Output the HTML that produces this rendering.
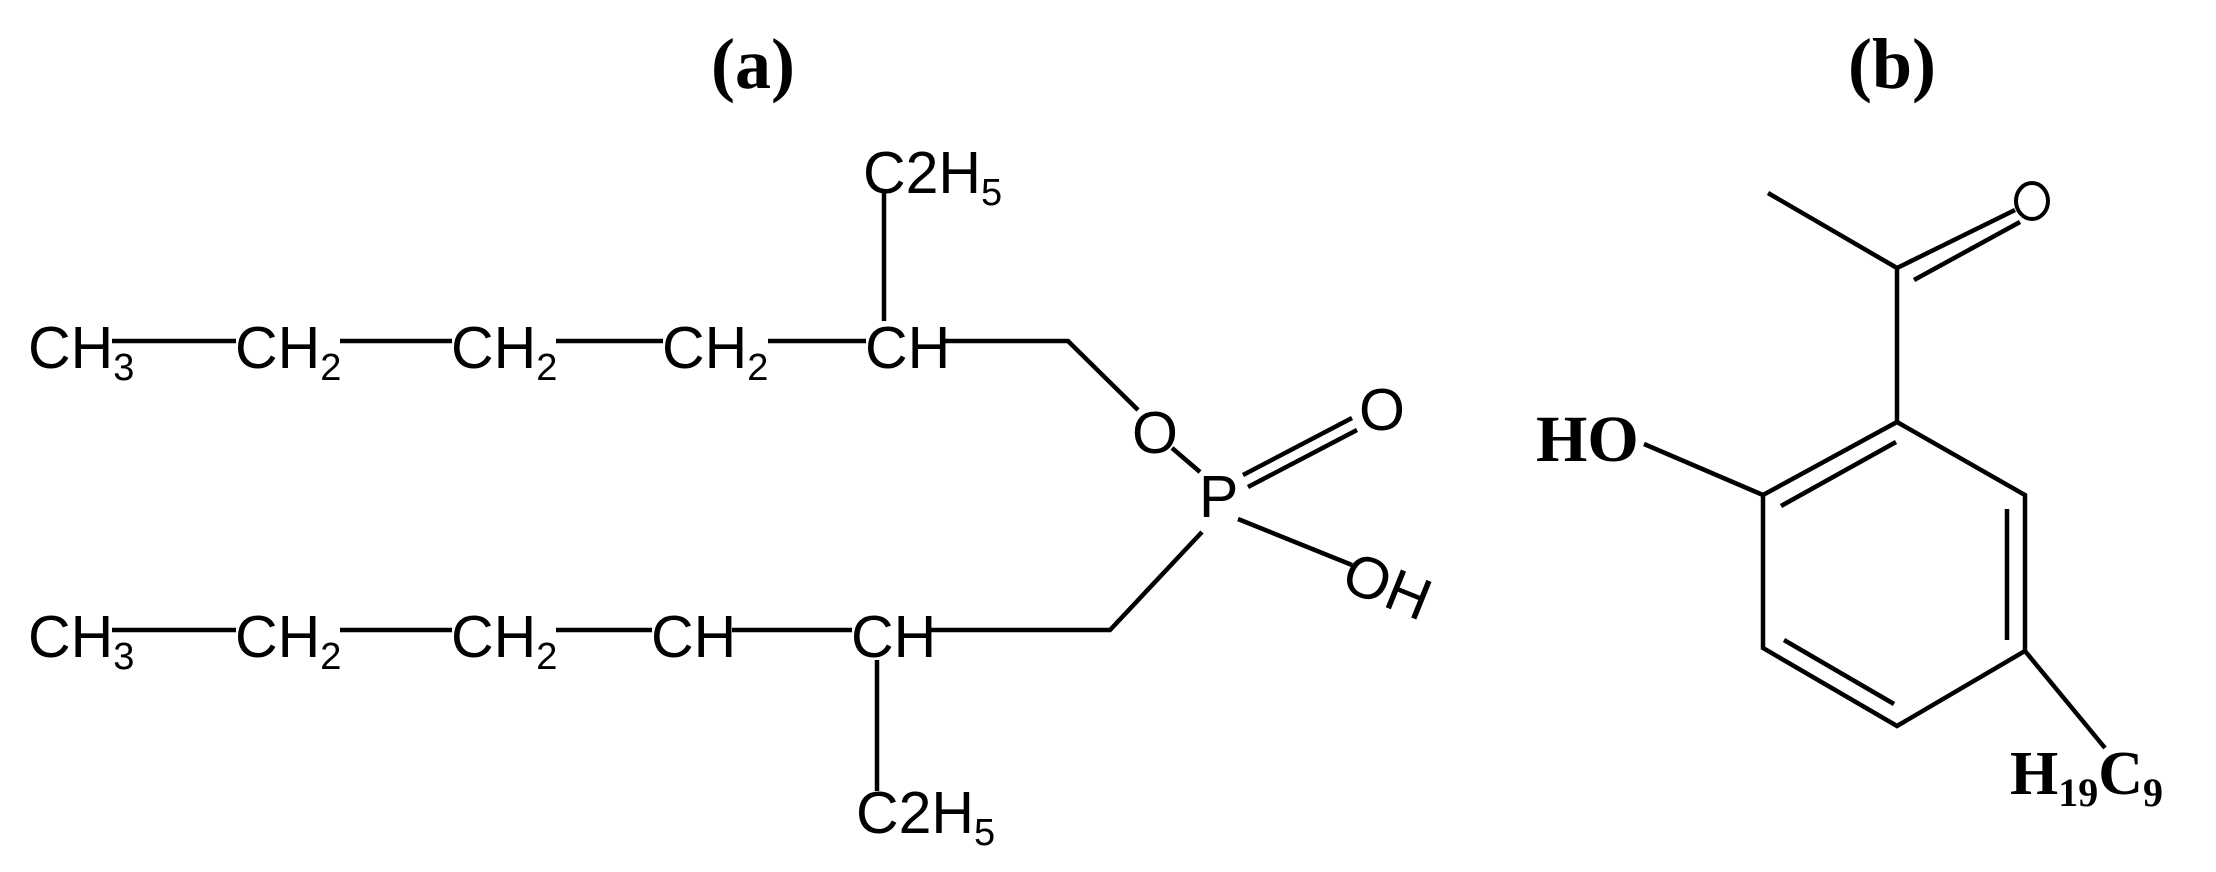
<!DOCTYPE html>
<html><head><meta charset="utf-8"><style>
html,body{margin:0;padding:0;background:#fff;}
svg{display:block;}
.t{font-family:"Liberation Sans",Arial,sans-serif;font-size:59px;fill:#000;}
.s{font-size:38px;}
.b{font-family:"Liberation Serif","Times New Roman",serif;font-weight:bold;fill:#000;}
</style></head><body>
<svg width="2216" height="872" viewBox="0 0 2216 872" xmlns="http://www.w3.org/2000/svg">
<g stroke="#000" stroke-width="4.5" fill="none" stroke-linecap="butt">
<line x1="112" y1="341" x2="236" y2="341"/>
<line x1="340" y1="341" x2="452" y2="341"/>
<line x1="556" y1="341" x2="663" y2="341"/>
<line x1="768" y1="341" x2="866" y2="341"/>
<polyline points="944,341 1068,341 1138,410"/>
<line x1="884" y1="193" x2="884" y2="321"/>
<line x1="1172" y1="448" x2="1200" y2="472"/>
<line x1="1243" y1="475" x2="1352" y2="418"/>
<line x1="1248" y1="487" x2="1357" y2="430"/>
<line x1="1238" y1="519" x2="1352" y2="565"/>
<polyline points="1202,532 1110,630 930,630"/>
<line x1="112" y1="630" x2="236" y2="630"/>
<line x1="340" y1="630" x2="452" y2="630"/>
<line x1="556" y1="630" x2="652" y2="630"/>
<line x1="732" y1="630" x2="852" y2="630"/>
<line x1="877" y1="660" x2="877" y2="791"/>
<line x1="1768" y1="193" x2="1897" y2="268"/>
<line x1="1897" y1="268" x2="2015" y2="210"/>
<line x1="1914" y1="280" x2="2020" y2="222"/>
<line x1="1897" y1="268" x2="1897" y2="422"/>
<polygon points="1897,422 2025,495 2025,651 1897,726 1763,648 1763,495"/>
<line x1="1781" y1="506" x2="1896" y2="442"/>
<line x1="2007" y1="509" x2="2007" y2="640"/>
<line x1="1784" y1="640" x2="1894" y2="704"/>
<line x1="1644" y1="444" x2="1763" y2="495"/>
<line x1="2025" y1="651" x2="2105" y2="748"/>
</g>
<ellipse cx="2032" cy="201" rx="16" ry="18" fill="none" stroke="#000" stroke-width="4"/>
<text class="b" x="753" y="88" font-size="72" text-anchor="middle">(a)</text>
<text class="b" x="1892" y="88" font-size="72" text-anchor="middle">(b)</text>
<g class="t">
<text x="28" y="368">CH<tspan class="s" dy="12">3</tspan></text>
<text x="235" y="368">CH<tspan class="s" dy="12">2</tspan></text>
<text x="451" y="368">CH<tspan class="s" dy="12">2</tspan></text>
<text x="662" y="368">CH<tspan class="s" dy="12">2</tspan></text>
<text x="865" y="368">CH</text>
<text x="863" y="193">C2H<tspan class="s" dy="12">5</tspan></text>
<text x="1132" y="453">O</text>
<text x="1199" y="517">P</text>
<text x="1359" y="430">O</text>
<text x="1345" y="598" transform="rotate(22 1367 577)">OH</text>
<text x="28" y="657">CH<tspan class="s" dy="12">3</tspan></text>
<text x="235" y="657">CH<tspan class="s" dy="12">2</tspan></text>
<text x="451" y="657">CH<tspan class="s" dy="12">2</tspan></text>
<text x="651" y="657">CH</text>
<text x="851" y="657">CH</text>
<text x="856" y="833">C2H<tspan class="s" dy="12">5</tspan></text>
</g>
<text class="b" x="1536" y="461" font-size="66">HO</text>
<text class="b" x="2010" y="794" font-size="62">H<tspan font-size="40" dy="12">19</tspan><tspan dy="-12">C</tspan><tspan font-size="40" dy="12">9</tspan></text>
</svg>
</body></html>
